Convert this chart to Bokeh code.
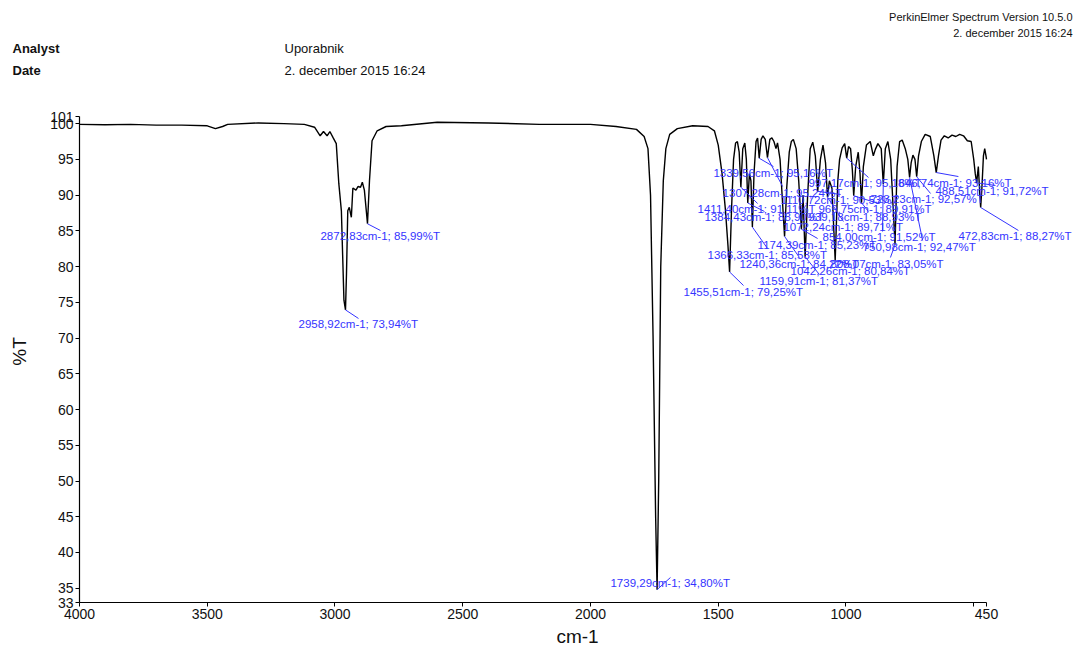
from bokeh.plotting import figure
from bokeh.layouts import column
from bokeh.models import Range1d, FixedTicker, LabelSet, ColumnDataSource, Arrow
from bokeh.core.properties import value
from bokeh.embed import file_html
from bokeh.resources import INLINE

# ---- spectrum (wavenumber cm-1, %T) ----
wavenumber = [4000, 3900, 3800, 3700, 3600, 3500, 3468, 3440, 3420, 3300, 3200, 3120, 3080,
              3058, 3045, 3031, 3020, 3007, 2995, 2985, 2975, 2965, 2958.92, 2955, 2950,
              2944, 2936, 2930, 2918, 2910, 2900, 2893, 2885, 2872.83, 2865, 2855, 2835,
              2800, 2740, 2600, 2400, 2200, 2000, 1900, 1820, 1790, 1775, 1765, 1755, 1745,
              1739.29, 1733, 1725, 1715, 1705, 1690, 1660, 1600, 1540, 1515, 1500, 1485,
              1472, 1462, 1455.51, 1448, 1440, 1432, 1425, 1418, 1411.40, 1404, 1396, 1390,
              1384.43, 1378, 1372, 1366.33, 1360, 1352, 1346, 1339.56, 1332, 1325, 1316,
              1307.28, 1298, 1290, 1282, 1274, 1268, 1258, 1250, 1240.36, 1232, 1222, 1214,
              1206, 1195, 1185, 1174.39, 1168, 1159.91, 1150, 1140, 1130, 1120, 1110.72,
              1100, 1090, 1080, 1072.24, 1065, 1055, 1042.26, 1032, 1025, 1015, 1005,
              997.17, 990, 982, 975, 969.75, 962, 952, 945, 939.18, 932, 920, 905, 893,
              885, 875, 862, 854.00, 846, 836, 825, 815, 808.07, 800, 790, 780, 768, 758,
              750.98, 745, 738, 730, 723.23, 716, 705, 690, 670, 656, 646.74, 638, 628,
              615, 600, 585, 570, 555, 540, 525, 510, 500, 494, 488.51, 482, 476, 472.83,
              468, 462, 457, 452, 450]
transmittance = [99.9, 99.85, 99.9, 99.8, 99.8, 99.7, 99.3, 99.6, 99.9, 100.1, 100.0, 99.9, 99.5,
                 98.3, 98.9, 98.3, 98.9, 98.0, 97.2, 91.6, 87.8, 75.3, 73.94, 79.0, 87.8,
                 88.3, 86.9, 91.0, 90.7, 91.2, 91.1, 91.8, 90.7, 85.99, 92.0, 97.6, 99.0,
                 99.6, 99.7, 100.2, 100.1, 99.9, 99.9, 99.6, 99.2, 98.2, 96.5, 90.0, 70.0, 45.0,
                 34.80, 50.0, 80.0, 92.0, 96.5, 98.5, 99.3, 99.7, 99.6, 99.0, 97.0, 93.0,
                 88.0, 83.0, 79.25, 88.0, 95.0, 97.3, 97.5, 96.0, 91.11, 96.5, 97.3, 95.0,
                 88.90, 93.0, 92.0, 85.53, 93.0, 97.5, 98.0, 95.16, 97.8, 98.3, 97.8,
                 95.24, 97.8, 98.0, 97.5, 96.5, 97.3, 95.0, 90.0, 84.22, 91.0, 96.0, 97.5,
                 97.8, 96.5, 92.0, 85.23, 90.0, 81.37, 90.0, 96.5, 97.4, 95.5, 90.53,
                 95.0, 97.0, 94.5, 89.71, 92.0, 91.0, 80.84, 92.0, 95.0, 96.6, 97.2,
                 95.18, 96.8, 96.5, 93.5, 89.91, 94.0, 96.0, 93.0, 88.93, 94.0, 97.0, 97.5, 95.5,
                 96.4, 97.2, 96.5, 91.52, 96.5, 97.5, 95.0, 88.0, 83.05, 94.0, 97.5, 97.7, 96.5, 95.0,
                 92.47, 94.5, 95.6, 95.0, 92.57, 95.5, 97.5, 98.5, 98.2, 95.5, 93.16, 95.5, 97.7,
                 98.3, 98.0, 98.4, 98.2, 98.5, 98.3, 97.6, 97.5, 95.0, 93.0, 91.72, 94.0, 90.0, 88.27,
                 91.0, 95.5, 96.5, 95.5, 95.0]

# ---- peak annotations ----
peak_wn = [2958.92, 2872.83, 1739.29, 1455.51, 1411.40, 1384.43, 1366.33, 1339.56, 1307.28,
           1240.36, 1174.39, 1159.91, 1110.72, 1072.24, 1042.26, 997.17, 969.75, 939.18,
           854.00, 808.07, 750.98, 723.23, 646.74, 488.51, 472.83]
peak_t = [73.94, 85.99, 34.80, 79.25, 91.11, 88.90, 85.53, 95.16, 95.24,
          84.22, 85.23, 81.37, 90.53, 89.71, 80.84, 95.18, 89.91, 88.93,
          91.52, 83.05, 92.47, 92.57, 93.16, 91.72, 88.27]
# where each leader line ends (the label hangs from this point)
label_wn = [2908, 2822, 1687, 1401, 1346, 1319, 1307, 1284, 1248,
            1182, 1111, 1104, 1021, 1010, 982, 912, 873, 912,
            857, 826, 700, 669, 560, 415, 325]
label_t = [72.74, 85.05, 36.5, 77.35, 88.83, 87.71, 82.53, 94.0, 91.2,
           81.27, 83.93, 78.89, 90.09, 86.31, 80.29, 92.47, 88.83, 87.71,
           84.91, 81.27, 83.65, 90.23, 92.6, 91.35, 85.05]

x_ticks = [4000, 3500, 3000, 2500, 2000, 1500, 1000, 500, 450]
x_tick_hidden = {500: ""}
y_ticks = [33, 35, 40, 45, 50, 55, 60, 65, 70, 75, 80, 85, 90, 95, 100, 101]

header_left = ["Analyst", "Date"]
header_mid = ["Uporabnik", "2. december 2015 16:24"]
header_right = ["PerkinElmer Spectrum Version 10.5.0", "2. december 2015 16:24"]


def fmt(v):
    return ("%.2f" % v).replace(".", ",")


peak_text = ["%scm-1; %s%%T" % (fmt(w), fmt(t)) for w, t in zip(peak_wn, peak_t)]

FONT = "Liberation Sans"
BLUE = "#3434ff"
INK = "#111111"

# ---------- header strip (pixel-like coordinates) ----------
W, HEAD_H = 1075, 100
head = figure(width=W, height=HEAD_H, output_backend="svg", toolbar_location=None,
              x_range=Range1d(0, W), y_range=Range1d(HEAD_H, 0),
              x_axis_type=None, y_axis_type=None, min_border=0)
head.outline_line_color = None
head.grid.visible = False
head.frame_align = False
head.text(x=[12, 12], y=[48, 70], text=header_left, text_font=value(FONT),
          text_font_size=value("13px"), text_font_style="bold", text_color=INK,
          text_align="left", text_baseline="middle")
head.text(x=[284, 284], y=[48, 70], text=header_mid, text_font=value(FONT),
          text_font_size=value("13px"), text_color=INK,
          text_align="left", text_baseline="middle")
head.text(x=[1072, 1072], y=[16, 32], text=header_right, text_font=value(FONT),
          text_font_size=value("11px"), text_color=INK,
          text_align="right", text_baseline="middle")

# ---------- spectrum ----------
# frame spans to the right edge so the peak labels are not clipped; the axis is bounded
px_per_cm = 907 / 3550.0
frame_w = W - 79
y_px_per_unit = 486 / 68.0
frame_h = 602 - HEAD_H
p = figure(width=W, height=651 - HEAD_H, output_backend="svg", toolbar_location=None,
           x_range=Range1d(4000, 4000 - frame_w / px_per_cm),
           y_range=Range1d(33, 33 + frame_h / y_px_per_unit),
           min_border_left=79, min_border_right=0, min_border_top=0, min_border_bottom=49)
p.outline_line_color = None
p.grid.visible = False
p.frame_align = False

p.line(wavenumber, transmittance, line_color="black", line_width=1.4)

src = ColumnDataSource(dict(px=peak_wn, pt=peak_t, lx=label_wn, ly=label_t, txt=peak_text))
p.add_layout(Arrow(end=None, x_start="px", y_start="pt", x_end="lx", y_end="ly", source=src,
                   line_color=BLUE, line_width=1))
p.add_layout(LabelSet(x="lx", y="ly", text="txt", source=src, x_offset=-60,
                      text_align="left", text_baseline="top",
                      text_font=value(FONT), text_font_size=value("11.5px"), text_color=BLUE))

for ax in (p.xaxis[0], p.yaxis[0]):
    ax.axis_line_color = "black"
    ax.axis_line_width = 1.2
    ax.major_tick_line_color = "black"
    ax.major_tick_out = 4
    ax.major_tick_in = 0
    ax.minor_tick_line_color = None
    ax.major_label_text_font = FONT
    ax.major_label_text_font_size = "14px"
    ax.major_label_text_color = INK
    ax.major_label_standoff = 2
    ax.axis_label_text_font = FONT
    ax.axis_label_text_font_size = "19px"
    ax.axis_label_text_font_style = "normal"
    ax.axis_label_text_color = INK

p.xaxis.ticker = FixedTicker(ticks=x_ticks)
p.xaxis.major_label_overrides = x_tick_hidden
p.yaxis.ticker = FixedTicker(ticks=y_ticks)
p.xaxis.bounds = (450, 4000)
p.yaxis.bounds = (33, 101)
p.xaxis.axis_label = "cm-1"
p.xaxis.axis_label_standoff = 4
p.yaxis.axis_label = "%T"
p.yaxis.axis_label_standoff = 17

layout = column(head, p, spacing=0)
open("out.html", "w").write(file_html(layout, INLINE))
